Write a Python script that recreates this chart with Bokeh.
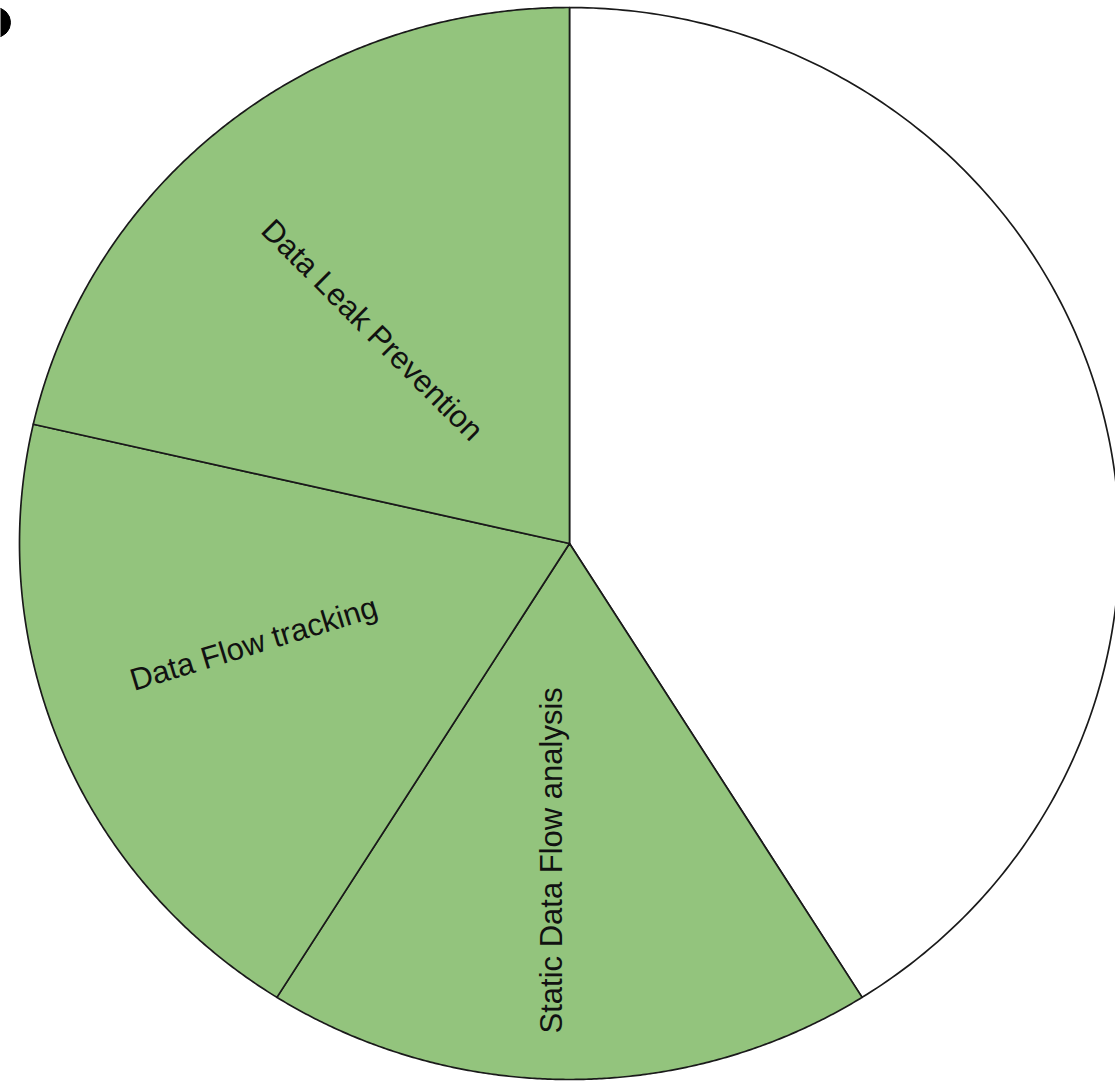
import numpy as np
from bokeh.plotting import figure
from bokeh.models import ColumnDataSource
from bokeh.core.properties import value
from bokeh.embed import file_html
from bokeh.resources import INLINE

# Slices, clockwise from 12 o'clock
categories = ["", "Static Data Flow analysis", "Data Flow tracking", "Data Leak Prevention"]
counts = [23, 10, 11, 12]
fills = ["#FFFFFF", "#93C47D", "#93C47D", "#93C47D"]

# Label styling: rotation (deg), radial placement and small angular nudge (deg)
label_rot = [0, 90, 17, -45]
label_r = [0.0, 0.592, 0.604, 0.536]
label_nudge = [0.0, 3.1, 4.5, -3.4]

W, H = 1115, 1081
CX, CY = 569, 543          # pie centre in px
RX, RY = 550, 536          # pie radii in px

p = figure(width=W, height=H, output_backend="svg", toolbar_location=None,
           x_range=(-CX / RX, (W - CX) / RX),
           y_range=(-(H - CY) / RY, CY / RY),
           min_border=0, min_border_left=0, min_border_right=0,
           min_border_top=0, min_border_bottom=0)
p.axis.visible = False
p.grid.visible = False
p.outline_line_color = None
p.background_fill_color = "white"
p.border_fill_color = "white"

total = float(sum(counts))
cum = np.concatenate([[0.0], np.cumsum(counts)]) / total * 2 * np.pi

xs, ys = [], []
for a0, a1 in zip(cum[:-1], cum[1:]):
    t = np.linspace(a0, a1, 240)
    # angle measured clockwise from the top
    xs.append(np.concatenate([[0.0], np.sin(t), [0.0]]))
    ys.append(np.concatenate([[0.0], np.cos(t), [0.0]]))

src = ColumnDataSource(dict(xs=xs, ys=ys, fill=fills))
p.patches("xs", "ys", source=src, fill_color="fill", line_color="#1a1a1a",
          line_width=1.7, line_join="round")

# Radial labels
lx, ly, lt, la = [], [], [], []
for i, name in enumerate(categories):
    if not name:
        continue
    mid = (cum[i] + cum[i + 1]) / 2 + np.deg2rad(label_nudge[i])
    lx.append(label_r[i] * np.sin(mid))
    ly.append(label_r[i] * np.cos(mid))
    lt.append(name)
    la.append(np.deg2rad(label_rot[i]))

lsrc = ColumnDataSource(dict(x=lx, y=ly, text=lt, angle=la))
p.text("x", "y", text="text", angle="angle", source=lsrc,
       text_font=value("Liberation Sans"), text_font_size="31px",
       text_color="#111111", text_align="center", text_baseline="middle")

# Bullet dot at the upper-left corner of the page
p.scatter([-CX / RX - 5 / RX], [(CY - 22) / RY], size=30, marker="circle",
          fill_color="black", line_color="black")

open("out.html", "w").write(file_html(p, INLINE))
